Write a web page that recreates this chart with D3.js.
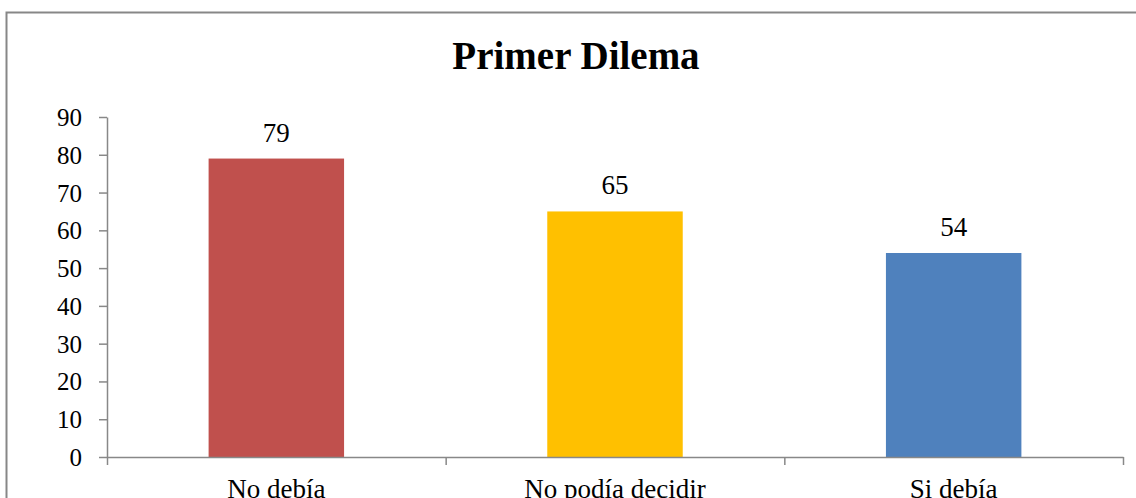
<!DOCTYPE html>
<html>
<head>
<meta charset="utf-8">
<script src="https://cdn.jsdelivr.net/npm/d3@7"></script>
<style>
  body { margin: 0; background: #fff; }
  svg { display: block; font-family: "Liberation Serif", "DejaVu Serif", serif; }
  .axis path, .axis line { stroke: #888; stroke-width: 1.5; }
  .axis text { fill: #000; }
</style>
</head>
<body>
<div id="chart"></div>
<script>
// datos del gráfico
const categories = ['No debía', 'No podía decidir', 'Si debía'];
const values = [79, 65, 54];
const barColors = ['#C0504D', '#FFC000', '#4F81BD'];
const yTicks = [0, 10, 20, 30, 40, 50, 60, 70, 80, 90];
const chartTitle = 'Primer Dilema';

const width = 1136, height = 498;
const margin = { top: 117, right: 13, bottom: 41, left: 107 };
const innerW = width - margin.left - margin.right;
const innerH = height - margin.top - margin.bottom;

const data = categories.map((c, i) => ({ cat: c, value: values[i], color: barColors[i] }));

const svg = d3.select('#chart')
    .append('svg')
    .attr('width', width)
    .attr('height', height);

// marco exterior
svg.append('rect')
    .attr('x', 6.5)
    .attr('y', 12.5)
    .attr('width', width + 20)
    .attr('height', height + 20)
    .attr('fill', 'none')
    .attr('stroke', '#878787')
    .attr('stroke-width', 2);

svg.append('text')
    .attr('x', 576)
    .attr('y', 69)
    .attr('text-anchor', 'middle')
    .style('font-size', '39px')
    .style('font-weight', 'bold')
    .text(chartTitle);

const chart = svg.append('g')
    .attr('transform', `translate(${margin.left},${margin.top})`);

const xScale = d3.scaleBand()
    .domain(categories)
    .range([0, innerW])
    .paddingInner(0.6)
    .paddingOuter(0.3);

// escala para las marcas entre categorías
const xEdge = d3.scaleLinear()
    .domain([0, categories.length])
    .range([0, innerW]);

const yScale = d3.scaleLinear()
    .domain([0, 90])
    .range([innerH, 0]);

// barras
chart.selectAll('.bar')
    .data(data)
    .enter()
    .append('rect')
    .attr('class', 'bar')
    .attr('x', d => xScale(d.cat))
    .attr('width', xScale.bandwidth())
    .attr('y', d => yScale(d.value))
    .attr('height', d => innerH - yScale(d.value))
    .attr('fill', d => d.color);

// etiquetas de valores
chart.selectAll('.bar-label')
    .data(data)
    .enter()
    .append('text')
    .attr('class', 'bar-label')
    .attr('x', d => xScale(d.cat) + xScale.bandwidth() / 2)
    .attr('y', d => yScale(d.value) - 17)
    .attr('text-anchor', 'middle')
    .style('font-size', '27px')
    .text(d => d.value);

// eje Y
const yAxisG = chart.append('g')
    .attr('class', 'axis y-axis')
    .call(d3.axisLeft(yScale).tickValues(yTicks).tickSize(8).tickPadding(17).tickSizeOuter(0))
    .attr('font-family', null)
    .attr('font-size', null);
yAxisG.selectAll('text').style('font-size', '25px').attr('dy', '0.34em');

// eje X
const xAxisG = chart.append('g')
    .attr('class', 'axis x-axis')
    .attr('transform', `translate(0,${innerH})`)
    .call(d3.axisBottom(xEdge).tickValues(d3.range(categories.length + 1)).tickFormat('').tickSize(8).tickSizeOuter(0));

chart.selectAll('.cat-label')
    .data(categories)
    .enter()
    .append('text')
    .attr('class', 'cat-label')
    .attr('x', d => xScale(d) + xScale.bandwidth() / 2)
    .attr('y', innerH + 41)
    .attr('text-anchor', 'middle')
    .style('font-size', '27px')
    .text(d => d);
</script>
</body>
</html>
